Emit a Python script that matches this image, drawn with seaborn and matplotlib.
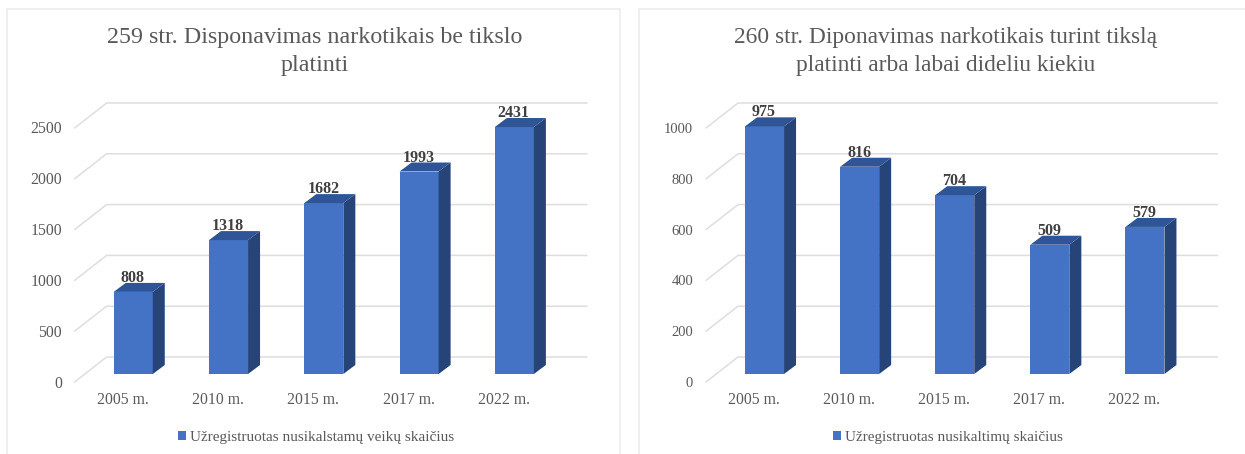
import matplotlib
matplotlib.use("Agg")
import matplotlib.pyplot as plt
import seaborn as sns
from matplotlib.lines import Line2D
from matplotlib.patches import Patch, Polygon
from matplotlib.transforms import IdentityTransform

W, H = 1245, 454

years = ["2005 m.", "2010 m.", "2015 m.", "2017 m.", "2022 m."]
left_values = [808, 1318, 1682, 1993, 2431]
right_values = [975, 816, 704, 509, 579]
left_ticks = [0, 500, 1000, 1500, 2000, 2500]
right_ticks = [0, 200, 400, 600, 800, 1000]
left_title = "259 str. Disponavimas narkotikais be tikslo\nplatinti"
right_title = "260 str. Diponavimas narkotikais turint tikslą\nplatinti arba labai dideliu kiekiu"
left_legend = "Užregistruotas nusikalstamų veikų skaičius"
right_legend = "Užregistruotas nusikaltimų skaičius"

FRONT = "#4472C4"
SIDE = "#264478"
TOP = "#2F5597"
TEXT = "#595959"
GRID = "#DEDEDE"

sns.set_theme(style="white")
plt.rcParams["font.family"] = ["Liberation Serif", "DejaVu Serif"]


def draw_panel(fig, box, values, ticks, title, title_x, title_size, legend, legend_x,
               label_right, tick_size):
    # box is left, right, top, bottom of the bar plane in image pixels
    x0, x1, ytop, ybot = box
    ax = fig.add_axes([x0 / W, 1 - ybot / H, (x1 - x0) / W, (ybot - ytop) / H])
    sns.barplot(x=years, y=values, color=FRONT, saturation=1, width=0.41, ax=ax,
                zorder=3, linewidth=0, edgecolor="none")
    ax.set_xlim(-0.5, 4.5)
    ax.set_ylim(0, ticks[-1])
    ax.set_facecolor("none")
    ax.axis("off")

    def px(x, y, dx=0, dy=0):
        a, b = ax.transData.transform((x, y))
        return a + dx, b + dy

    # floor and back wall lines for each tick
    for t in ticks:
        pts = [px(-0.5, t, -11, -8), px(-0.5, t, 21, 17), px(4.5, t, 25, 17)]
        xs, ys = zip(*pts)
        ax.add_line(Line2D(xs, ys, color=GRID, lw=1.1, transform=IdentityTransform(),
                           clip_on=False, zorder=1))
        lx, ly = px(-0.5, t, -11, -9.5)
        fig.text(label_right / W, ly / H, str(t), ha="right", va="center",
                 fontsize=tick_size, color=TEXT)

    # depth faces built from the bars seaborn drew
    for bar, v in zip(ax.patches, values):
        a, w = bar.get_x(), bar.get_width()
        right = [px(a + w, 0), px(a + w, 0, 12, 9), px(a + w, v, 12, 9), px(a + w, v)]
        top = [px(a, v), px(a + w, v), px(a + w, v, 12, 9), px(a, v, 12, 9)]
        ax.add_patch(Polygon(right, closed=True, fc=SIDE, ec="none",
                             transform=IdentityTransform(), clip_on=False, zorder=3))
        ax.add_patch(Polygon(top, closed=True, fc=TOP, ec="none",
                             transform=IdentityTransform(), clip_on=False, zorder=3))
        tx, ty = px(a + w / 2, v, -0.5, 6)
        ax.text(tx, ty, str(v), transform=IdentityTransform(), ha="center", va="bottom",
                fontsize=11.5, fontweight="bold", color="#404040", zorder=4, clip_on=False)

    for i, lab in enumerate(years):
        tx, _ = px(i, 0, -10.5)
        fig.text(tx / W, 1 - 400 / H, lab, ha="center", va="center", fontsize=11.3, color=TEXT)

    fig.text(title_x / W, 1 - 51.5 / H, title, ha="center", va="center", fontsize=title_size,
             color=TEXT, linespacing=1.5)
    fig.legend(handles=[Patch(fc=FRONT, ec="none", label=legend)], loc="center left",
               bbox_to_anchor=(legend_x / W, 1 - 437 / H), frameon=False, fontsize=11,
               labelcolor=TEXT, handlelength=0.52, handleheight=0.52, handletextpad=0.26,
               borderpad=0, borderaxespad=0)


fig = plt.figure(figsize=(W / 100, H / 100), dpi=100, facecolor="white")

draw_panel(fig, (85.6, 562, 120, 374), left_values, left_ticks, left_title, 314.5, 17.3,
           left_legend, 178, 62, 11.3)
draw_panel(fig, (717, 1192.5, 120, 374), right_values, right_ticks, right_title, 945.5, 16.95,
           right_legend, 833, 693, 10.5)

# panel frames, cut off by the edge of the screenshot
for xs, ys in [([7, 7, 620, 620], [454, 9, 9, 454]), ([639, 639, 1245], [454, 9, 9])]:
    fig.add_artist(Line2D([x / W for x in xs], [1 - y / H for y in ys], color="#EBEBEB", lw=1.1))

fig.savefig("out.png", dpi=100)
